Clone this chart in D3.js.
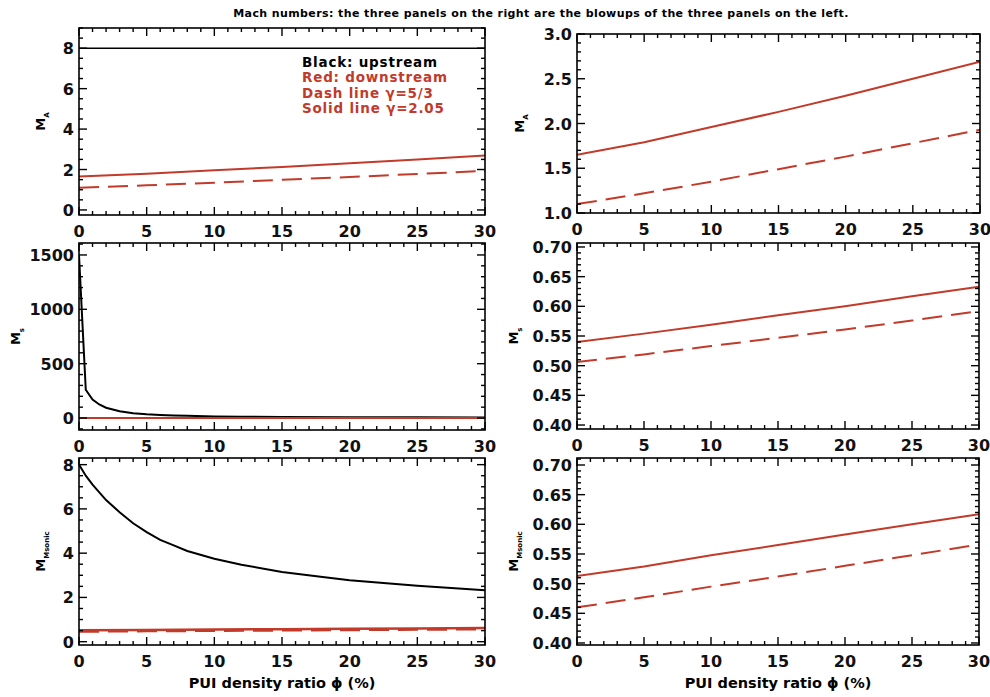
<!DOCTYPE html>
<html><head><meta charset="utf-8">
<script src="https://cdn.jsdelivr.net/npm/d3@7"></script>
<style>
body{margin:0;background:#fff;}
text{font-family:"DejaVu Sans",sans-serif;}
</style></head>
<body><svg id="c" width="990" height="697"></svg>
<script>
// ---- data ----
const phiTicks = [0,5,10,15,20,25,30];
const phi = [0,5,10,15,20,25,30];
// Alfven Mach number
const maUp = [8,8,8,8,8,8,8];
const maDownSolid = [1.65,1.79,1.96,2.13,2.31,2.50,2.69];
const maDownDash  = [1.10,1.22,1.35,1.49,1.63,1.78,1.93];
// sonic Mach number
const phiCs = [0,0.5,1,1.5,2,3,4,5,6,7,8,10,12,15,20,25,30];
const csUp = [1500,260,170,125,95,62,45,35,28,23,20,15,12,10,8,7,6];
const csDownSolid = [0.540,0.554,0.569,0.585,0.600,0.617,0.633];
const csDownDash  = [0.506,0.519,0.533,0.547,0.561,0.576,0.592];
// magnetosonic Mach number
const phiMs = [0,0.5,1,2,3,4,5,6,7,8,10,12,15,18,20,25,30];
const msUp = [8.0,7.5,7.1,6.4,5.85,5.35,4.95,4.6,4.35,4.1,3.75,3.48,3.15,2.92,2.78,2.53,2.32];
const msDownSolid = [0.513,0.529,0.548,0.565,0.583,0.600,0.617];
const msDownDash  = [0.460,0.477,0.495,0.512,0.530,0.548,0.566];

const leftYTicks1 = [0,2,4,6,8];
const rightYTicks1 = [1.0,1.5,2.0,2.5,3.0];
const leftYTicks2 = [0,500,1000,1500];
const rightYTicks2 = [0.40,0.45,0.50,0.55,0.60,0.65,0.70];
const leftYTicks3 = [0,2,4,6,8];
const rightYTicks3 = [0.40,0.45,0.50,0.55,0.60,0.65,0.70];

const title = "Mach numbers: the three panels on the right are the blowups of the three panels on the left.";
const legendLines = ["Black: upstream","Red: downstream","Dash line \u03b3=5/3","Solid line \u03b3=2.05"];
const xTitle = "PUI density ratio \u03d5 (%)";

const RED = "#c23a2a";
const svg = d3.select("#c");

function zip(xs, ys){ return xs.map((x,i)=>[x, ys[i]]); }

let clipId = 0;
function panel(cfg){
  const x = d3.scaleLinear().domain([0,30]).range([cfg.x0,cfg.x1]);
  const y = d3.scaleLinear().domain(cfg.ydom).range([cfg.y1,cfg.y0]);
  const g = svg.append("g");
  const id = "clip"+(clipId++);
  g.append("clipPath").attr("id",id).append("rect")
    .attr("x",cfg.x0).attr("y",cfg.y0).attr("width",cfg.x1-cfg.x0).attr("height",cfg.y1-cfg.y0);
  const lines = g.append("g").attr("clip-path","url(#"+id+")");
  const lg = d3.line().x(d=>x(d[0])).y(d=>y(d[1]));
  cfg.series.forEach(s=>{
    lines.append("path").datum(zip(s.x,s.y)).attr("d",lg)
      .attr("fill","none").attr("stroke",s.color).attr("stroke-width",s.w||2)
      .attr("stroke-dasharray",s.dash||null);
  });
  // frame
  g.append("rect").attr("x",cfg.x0).attr("y",cfg.y0).attr("width",cfg.x1-cfg.x0).attr("height",cfg.y1-cfg.y0)
    .attr("fill","none").attr("stroke","#000").attr("stroke-width",1.6);
  const tk = g.append("g").attr("stroke","#000").attr("stroke-width",1.4);
  // x ticks
  const xMinor = d3.range(0,30.001,1);
  xMinor.forEach(v=>{
    const major = Math.abs(v%5)<1e-6;
    const L = major?8:4;
    tk.append("line").attr("x1",x(v)).attr("x2",x(v)).attr("y1",cfg.y1).attr("y2",cfg.y1-L);
    tk.append("line").attr("x1",x(v)).attr("x2",x(v)).attr("y1",cfg.y0).attr("y2",cfg.y0+L);
  });
  // y ticks
  const [d0,d1] = cfg.ydom;
  const start = Math.ceil((d0-1e-9)/cfg.minor);
  for(let k=start; k*cfg.minor<=d1+1e-9; k++){
    const v = k*cfg.minor;
    const major = cfg.yticks.some(t=>Math.abs(t-v)<cfg.minor*1e-3);
    const L = major?8:4;
    tk.append("line").attr("y1",y(v)).attr("y2",y(v)).attr("x1",cfg.x0).attr("x2",cfg.x0+L);
    tk.append("line").attr("y1",y(v)).attr("y2",y(v)).attr("x1",cfg.x1).attr("x2",cfg.x1-L);
  }
  // labels
  const lab = g.append("g").attr("font-size",16).attr("font-weight","bold").attr("fill","#111");
  phiTicks.forEach(v=>{
    lab.append("text").attr("x",x(v)).attr("y",cfg.y1+22).attr("text-anchor","middle").text(v);
  });
  cfg.yticks.forEach(v=>{
    lab.append("text").attr("x",cfg.x0-5).attr("y",y(v)+6).attr("text-anchor","end").text(cfg.fmt(v));
  });
  // y title
  const yt = g.append("text").attr("transform","translate("+cfg.ytx+","+((cfg.y0+cfg.y1)/2)+") rotate(-90)")
    .attr("text-anchor","middle").attr("font-weight","bold").attr("font-size",13);
  yt.append("tspan").text("M");
  yt.append("tspan").attr("font-size",7).attr("dy",4).text(cfg.sub);
  if(cfg.xtitle){
    g.append("text").attr("x",(cfg.x0+cfg.x1)/2).attr("y",cfg.y1+43).attr("text-anchor","middle")
      .attr("font-size",14.5).attr("font-weight","bold").text(xTitle);
  }
  return {x,y,g};
}

const DASH = "20,9";
const fmtInt = d3.format("d"), fmt1 = d3.format(".1f"), fmt2 = d3.format(".2f");

const p1 = panel({x0:79,x1:485,y0:28,y1:215,ydom:[-0.25,9.0],yticks:leftYTicks1,minor:0.5,fmt:fmtInt,sub:"A",ytx:45,
  series:[{x:phi,y:maUp,color:"#000",w:1.6},{x:phi,y:maDownSolid,color:RED},{x:phi,y:maDownDash,color:RED,dash:DASH}]});
const p2 = panel({x0:577,x1:980,y0:34,y1:213,ydom:[1.0,3.0],yticks:rightYTicks1,minor:0.1,fmt:fmt1,sub:"A",ytx:524,
  series:[{x:phi,y:maDownSolid,color:RED},{x:phi,y:maDownDash,color:RED,dash:DASH}]});
const p3 = panel({x0:79,x1:485,y0:243,y1:430,ydom:[-110,1610],yticks:leftYTicks2,minor:100,fmt:fmtInt,sub:"s",ytx:20,
  series:[{x:phiCs,y:csUp,color:"#000"},{x:phi,y:csDownSolid,color:RED},{x:phi,y:csDownDash,color:RED,dash:DASH}]});
const p4 = panel({x0:577,x1:979,y0:243,y1:429,ydom:[0.3933,0.7067],yticks:rightYTicks2,minor:0.01,fmt:fmt2,sub:"s",ytx:518,
  series:[{x:phi,y:csDownSolid,color:RED},{x:phi,y:csDownDash,color:RED,dash:DASH}]});
const p5 = panel({x0:79,x1:485,y0:458,y1:645,ydom:[-0.15,8.3],yticks:leftYTicks3,minor:0.5,fmt:fmtInt,sub:"Msonic",ytx:45,xtitle:true,
  series:[{x:phiMs,y:msUp,color:"#000"},{x:phi,y:msDownSolid,color:RED,w:2.5},{x:phi,y:msDownDash,color:RED,dash:DASH,w:2.5}]});
const p6 = panel({x0:577,x1:979,y0:458,y1:645,ydom:[0.3966,0.7118],yticks:rightYTicks3,minor:0.01,fmt:fmt2,sub:"Msonic",ytx:518,xtitle:true,
  series:[{x:phi,y:msDownSolid,color:RED},{x:phi,y:msDownDash,color:RED,dash:DASH}]});

// title
svg.append("text").attr("x",541).attr("y",17).attr("text-anchor","middle")
  .attr("font-size",11).attr("letter-spacing",0.4).attr("font-weight","bold").text(title);

// legend
const leg = svg.append("g").attr("font-size",13.5).attr("font-weight","bold").attr("letter-spacing",0.8);
legendLines.forEach((t,i)=>{
  leg.append("text").attr("x",302).attr("y",67+i*15.3).attr("fill",i===0?"#000":RED).text(t);
});
</script></body></html>
